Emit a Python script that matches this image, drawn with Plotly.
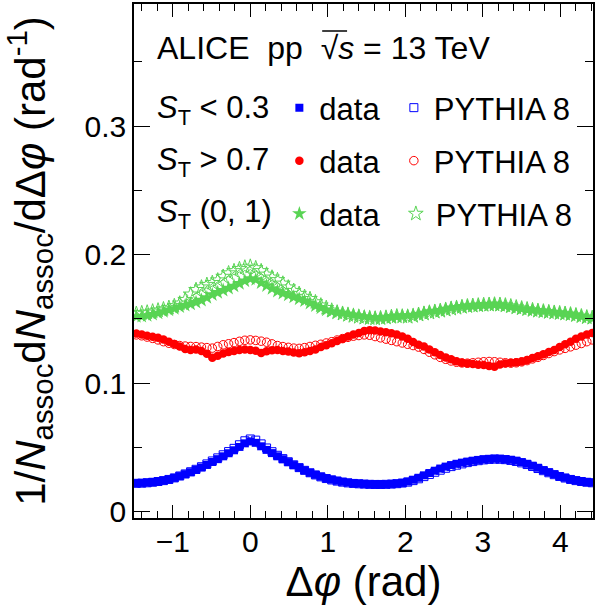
import plotly.graph_objects as go

# ---------------- data ----------------
dphi = [-1.47, -1.40, -1.33, -1.26, -1.19, -1.12, -1.05, -0.98, -0.91, -0.84,
        -0.77, -0.70, -0.63, -0.56, -0.49, -0.42, -0.35, -0.28, -0.21, -0.14,
        -0.07, 0.00, 0.07, 0.14, 0.21, 0.28, 0.35, 0.42, 0.49, 0.56,
        0.63, 0.70, 0.77, 0.84, 0.91, 0.98, 1.05, 1.12, 1.19, 1.26,
        1.33, 1.40, 1.47, 1.54, 1.61, 1.68, 1.75, 1.82, 1.89, 1.96,
        2.03, 2.10, 2.17, 2.24, 2.31, 2.38, 2.45, 2.52, 2.59, 2.66,
        2.73, 2.80, 2.87, 2.94, 3.01, 3.08, 3.15, 3.22, 3.29, 3.36,
        3.43, 3.50, 3.57, 3.64, 3.71, 3.78, 3.85, 3.92, 3.99, 4.06,
        4.13, 4.20, 4.27, 4.34, 4.41]

st_low_data = [0.0221, 0.0223, 0.0226, 0.0230, 0.0235, 0.0241, 0.0250, 0.0262, 0.0276, 0.0291,
               0.0306, 0.0324, 0.0343, 0.0363, 0.0386, 0.0408, 0.0430, 0.0454, 0.0477, 0.0503,
               0.0531, 0.0546, 0.0535, 0.0508, 0.0480, 0.0455, 0.0430, 0.0407, 0.0385, 0.0362,
               0.0341, 0.0321, 0.0302, 0.0286, 0.0272, 0.0259, 0.0249, 0.0240, 0.0232, 0.0226,
               0.0221, 0.0218, 0.0215, 0.0213, 0.0212, 0.0212, 0.0213, 0.0215, 0.0218, 0.0223,
               0.0234, 0.0248, 0.0263, 0.0282, 0.0300, 0.0318, 0.0335, 0.0350, 0.0362, 0.0372,
               0.0381, 0.0389, 0.0396, 0.0402, 0.0407, 0.0410, 0.0412, 0.0411, 0.0408, 0.0403,
               0.0396, 0.0385, 0.0372, 0.0357, 0.0341, 0.0322, 0.0306, 0.0290, 0.0275, 0.0263,
               0.0252, 0.0243, 0.0236, 0.0230, 0.0226]

st_low_pythia = [0.0220, 0.0221, 0.0224, 0.0228, 0.0234, 0.0241, 0.0250, 0.0262, 0.0277, 0.0293,
                 0.0310, 0.0329, 0.0349, 0.0371, 0.0394, 0.0418, 0.0442, 0.0467, 0.0492, 0.0520,
                 0.0551, 0.0565, 0.0556, 0.0527, 0.0495, 0.0466, 0.0438, 0.0412, 0.0388, 0.0364,
                 0.0342, 0.0321, 0.0302, 0.0285, 0.0270, 0.0257, 0.0246, 0.0237, 0.0229, 0.0223,
                 0.0219, 0.0216, 0.0214, 0.0212, 0.0211, 0.0211, 0.0212, 0.0214, 0.0217, 0.0222,
                 0.0229, 0.0241, 0.0255, 0.0272, 0.0289, 0.0306, 0.0322, 0.0337, 0.0350, 0.0361,
                 0.0371, 0.0381, 0.0389, 0.0396, 0.0402, 0.0406, 0.0408, 0.0407, 0.0404, 0.0398,
                 0.0390, 0.0379, 0.0366, 0.0351, 0.0335, 0.0318, 0.0302, 0.0287, 0.0273, 0.0261,
                 0.0250, 0.0241, 0.0234, 0.0228, 0.0224]

st_high_data = [0.1385, 0.1378, 0.1368, 0.1360, 0.1352, 0.1340, 0.1322, 0.1305, 0.1285, 0.1265,
                0.1258, 0.1262, 0.1250, 0.1228, 0.1198, 0.1212, 0.1230, 0.1242, 0.1250, 0.1258,
                0.1262, 0.1258, 0.1252, 0.1235, 0.1248, 0.1256, 0.1258, 0.1250, 0.1245, 0.1238,
                0.1232, 0.1240, 0.1250, 0.1262, 0.1280, 0.1295, 0.1310, 0.1328, 0.1345, 0.1362,
                0.1378, 0.1390, 0.1405, 0.1412, 0.1410, 0.1402, 0.1395, 0.1388, 0.1378, 0.1362,
                0.1345, 0.1320, 0.1298, 0.1285, 0.1262, 0.1240, 0.1218, 0.1200, 0.1185, 0.1170,
                0.1158, 0.1152, 0.1148, 0.1142, 0.1140, 0.1132, 0.1128, 0.1145, 0.1152, 0.1158,
                0.1162, 0.1168, 0.1180, 0.1195, 0.1208, 0.1225, 0.1242, 0.1258, 0.1280, 0.1302,
                0.1322, 0.1345, 0.1362, 0.1378, 0.1390]

st_high_pythia = [0.1375, 0.1368, 0.1358, 0.1348, 0.1336, 0.1322, 0.1310, 0.1300, 0.1292, 0.1288,
                  0.1285, 0.1284, 0.1280, 0.1276, 0.1272, 0.1285, 0.1298, 0.1306, 0.1315, 0.1325,
                  0.1333, 0.1336, 0.1332, 0.1326, 0.1318, 0.1305, 0.1292, 0.1284, 0.1278, 0.1272,
                  0.1270, 0.1276, 0.1285, 0.1294, 0.1302, 0.1312, 0.1322, 0.1335, 0.1346, 0.1356,
                  0.1365, 0.1370, 0.1375, 0.1372, 0.1362, 0.1352, 0.1342, 0.1332, 0.1322, 0.1312,
                  0.1302, 0.1292, 0.1280, 0.1262, 0.1240, 0.1220, 0.1200, 0.1185, 0.1172, 0.1162,
                  0.1157, 0.1155, 0.1158, 0.1162, 0.1166, 0.1168, 0.1166, 0.1162, 0.1158, 0.1155,
                  0.1158, 0.1165, 0.1175, 0.1188, 0.1200, 0.1215, 0.1230, 0.1245, 0.1258, 0.1270,
                  0.1282, 0.1295, 0.1308, 0.1322, 0.1336]

st_all_data = [0.1518, 0.1520, 0.1525, 0.1535, 0.1545, 0.1556, 0.1568, 0.1580, 0.1593, 0.1605,
               0.1615, 0.1628, 0.1645, 0.1665, 0.1688, 0.1705, 0.1722, 0.1738, 0.1755, 0.1775,
               0.1795, 0.1812, 0.1805, 0.1780, 0.1758, 0.1735, 0.1715, 0.1698, 0.1685, 0.1670,
               0.1655, 0.1640, 0.1622, 0.1602, 0.1585, 0.1568, 0.1556, 0.1550, 0.1544, 0.1538,
               0.1530, 0.1524, 0.1518, 0.1512, 0.1508, 0.1505, 0.1508, 0.1512, 0.1518, 0.1522,
               0.1525, 0.1528, 0.1535, 0.1545, 0.1556, 0.1560, 0.1565, 0.1575, 0.1585, 0.1590,
               0.1595, 0.1598, 0.1600, 0.1603, 0.1605, 0.1608, 0.1610, 0.1606, 0.1600, 0.1592,
               0.1585, 0.1578, 0.1572, 0.1568, 0.1565, 0.1560, 0.1556, 0.1550, 0.1545, 0.1540,
               0.1535, 0.1528, 0.1520, 0.1510, 0.1505]

st_all_pythia = [0.1540, 0.1545, 0.1550, 0.1558, 0.1566, 0.1575, 0.1586, 0.1600, 0.1620, 0.1648,
                 0.1690, 0.1725, 0.1745, 0.1765, 0.1780, 0.1800, 0.1828, 0.1855, 0.1872, 0.1888,
                 0.1900, 0.1907, 0.1895, 0.1872, 0.1845, 0.1822, 0.1802, 0.1775, 0.1745, 0.1718,
                 0.1695, 0.1672, 0.1655, 0.1630, 0.1605, 0.1585, 0.1565, 0.1550, 0.1540, 0.1530,
                 0.1522, 0.1515, 0.1508, 0.1505, 0.1502, 0.1505, 0.1510, 0.1515, 0.1520, 0.1518,
                 0.1515, 0.1522, 0.1532, 0.1540, 0.1548, 0.1555, 0.1562, 0.1570, 0.1578, 0.1585,
                 0.1592, 0.1598, 0.1602, 0.1605, 0.1608, 0.1610, 0.1612, 0.1610, 0.1605, 0.1598,
                 0.1590, 0.1582, 0.1575, 0.1568, 0.1562, 0.1558, 0.1552, 0.1548, 0.1544, 0.1540,
                 0.1535, 0.1528, 0.1520, 0.1512, 0.1508]

# ---------------- style ----------------
FONT = "Liberation Sans, Arial, sans-serif"
BLUE = "#0000ff"
RED = "#ff0000"
GREEN = "rgb(89,212,84)"

W, H = 596, 606
L, R, T, B = 134, 1, 4, 88
PW, PH = W - L - R, H - T - B


def px(x):
    return (x - L) / PW


def py(y):
    return (H - B - y) / PH


fig = go.Figure()

series = [
    (st_low_data, "data", "square", 8, BLUE, "legend", 280, 108),
    (st_low_pythia, "PYTHIA 8", "square-open", 8, BLUE, "legend2", 395, 108),
    (st_high_data, "data", "circle", 8.5, RED, "legend3", 280, 161),
    (st_high_pythia, "PYTHIA 8", "circle-open", 8.5, RED, "legend4", 395, 161),
    (st_all_data, "data", "star", 11, GREEN, "legend5", 280, 214),
    (st_all_pythia, "PYTHIA 8", "star-open", 11, GREEN, "legend6", 397, 214),
]
legends = {}
for vals, name, sym, size, col, leg, lx, ly in series:
    fig.add_trace(go.Scatter(
        x=dphi, y=vals, mode="markers", name=name, legend=leg,
        marker=dict(symbol=sym, size=size, color=col,
                    line=dict(width=1 if "open" in sym else 0, color=col)),
        cliponaxis=True, showlegend=True))
    legends[leg] = dict(x=px(lx), y=py(ly), xanchor="left", yanchor="middle",
                        bgcolor="rgba(0,0,0,0)", borderwidth=0,
                        font=dict(family=FONT, size=31, color="black"))

axis_common = dict(showline=True, linecolor="black", linewidth=1.5, mirror="allticks",
                   ticks="inside", tickcolor="black", tickwidth=1,
                   showgrid=False, zeroline=False,
                   tickfont=dict(family=FONT, size=30, color="black"))

fig.update_layout(
    width=W, height=H,
    margin=dict(l=L, r=R, t=T, b=B),
    paper_bgcolor="white", plot_bgcolor="white",
    font=dict(family=FONT, color="black"),
    xaxis=dict(range=[-1.5, 4.42], dtick=1, tick0=0, ticklen=13, ticklabelstandoff=-4,
               minor=dict(dtick=0.2, ticks="inside", ticklen=7, tickcolor="black", tickwidth=1),
               title=dict(text="Δ<i>φ</i> (rad)", font=dict(family=FONT, size=42), standoff=0),
               **axis_common),
    yaxis=dict(range=[-0.005, 0.395], dtick=0.1, tick0=0, ticklen=16,
               minor=dict(dtick=0.05, ticks="inside", ticklen=8, tickcolor="black", tickwidth=1),
               title=dict(text="1/<i>N</i><sub>assoc</sub>d<i>N</i><sub>assoc</sub>/dΔ<i>φ</i> (rad<sup>-1</sup>)",
                          font=dict(family=FONT, size=42), standoff=27),
               **axis_common),
    **legends,
)

ann = dict(xref="paper", yref="paper", xanchor="left", yanchor="middle", showarrow=False,
           font=dict(family=FONT, size=31, color="black"))
fig.add_annotation(x=px(155), y=py(48), text="ALICE\u00a0\u00a0pp\u00a0\u00a0\u221a<i>s</i> = 13 TeV",
                   **dict(ann, font=dict(family=FONT, size=32, color="black")))
fig.add_annotation(x=px(155), y=py(110), text="<i>S</i><sub>T</sub> &lt; 0.3", **ann)
fig.add_annotation(x=px(155), y=py(162), text="<i>S</i><sub>T</sub> &gt; 0.7", **ann)
fig.add_annotation(x=px(155), y=py(214), text="<i>S</i><sub>T</sub> (0, 1)", **ann)

# overline of the square-root sign
fig.add_shape(type="line", xref="paper", yref="paper",
              x0=px(323), x1=px(348), y0=py(31), y1=py(31),
              line=dict(color="black", width=1.5))

fig.write_html("out.html",
               config={"displayModeBar": False},
               post_script="document.body.style.margin='0';document.body.style.padding='0';")
